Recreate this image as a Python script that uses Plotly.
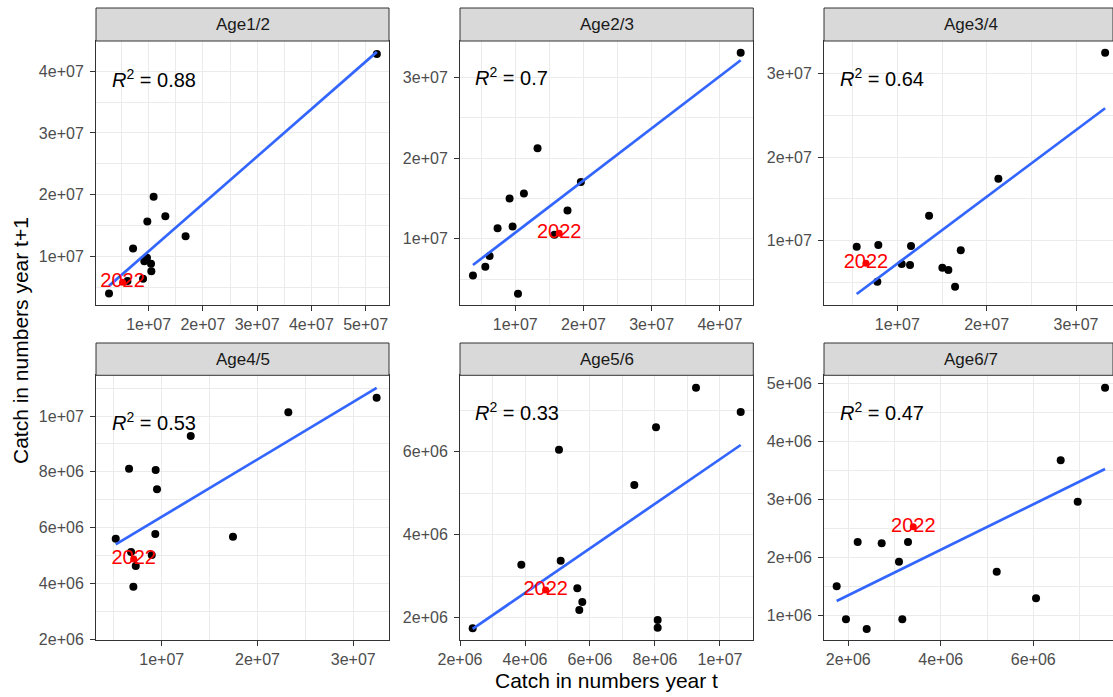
import numpy as np
import plotly.graph_objects as go

# ---------------- data ----------------
panel_titles = ["Age1/2", "Age2/3", "Age3/4", "Age4/5", "Age5/6", "Age6/7"]
r2_labels = ["0.88", "0.7", "0.64", "0.53", "0.33", "0.47"]
highlight_label = "2022"

age12_x = [5.206e7, 1.092e7, 1.308e7, 0.976e7, 1.681e7, 0.713e7, 0.970e7, 0.921e7, 1.044e7, 1.050e7, 0.897e7, 0.610e7, 0.270e7]
age12_y = [4.280e7, 1.963e7, 1.648e7, 1.562e7, 1.324e7, 1.125e7, 0.974e7, 0.919e7, 0.877e7, 0.757e7, 0.634e7, 0.600e7, 0.395e7]
age12_2022 = [0.520e7, 0.579e7]

age23_x = [4.305e7, 1.327e7, 1.962e7, 1.127e7, 0.917e7, 1.766e7, 0.741e7, 0.961e7, 1.575e7, 0.624e7, 0.561e7, 0.380e7, 1.040e7]
age23_y = [3.306e7, 2.122e7, 1.702e7, 1.561e7, 1.499e7, 1.350e7, 1.132e7, 1.152e7, 1.050e7, 0.786e7, 0.653e7, 0.546e7, 0.319e7]
age23_2022 = [1.644e7, 1.070e7]

age34_x = [3.326e7, 2.131e7, 1.355e7, 0.545e7, 0.787e7, 1.153e7, 1.710e7, 1.049e7, 1.142e7, 1.504e7, 1.571e7, 1.646e7, 0.776e7]
age34_y = [3.246e7, 1.741e7, 1.299e7, 0.928e7, 0.949e7, 0.937e7, 0.885e7, 0.722e7, 0.710e7, 0.677e7, 0.650e7, 0.450e7, 0.510e7]
age34_2022 = [0.649e7, 0.730e7]

age45_x = [3.244e7, 2.322e7, 1.303e7, 0.659e7, 0.937e7, 0.951e7, 0.933e7, 1.744e7, 0.520e7, 0.680e7, 0.729e7, 0.896e7, 0.704e7]
age45_y = [1.066e7, 1.0137e7, 9.287e6, 8.115e6, 8.068e6, 7.376e6, 5.774e6, 5.677e6, 5.606e6, 5.130e6, 4.627e6, 5.022e6, 3.885e6]
age45_2022 = [0.708e7, 4.880e6]

age56_x = [9.262e6, 1.0637e7, 8.031e6, 5.046e6, 7.364e6, 3.887e6, 5.098e6, 5.610e6, 5.763e6, 5.671e6, 8.082e6, 8.082e6, 2.390e6]
age56_y = [7.542e6, 6.957e6, 6.588e6, 6.048e6, 5.198e6, 3.277e6, 3.373e6, 2.708e6, 2.378e6, 2.186e6, 1.945e6, 1.759e6, 1.745e6]
age56_2022 = [4.636e6, 2.667e6]

age67_x = [7.551e6, 6.592e6, 6.960e6, 2.203e6, 2.722e6, 3.291e6, 3.096e6, 5.209e6, 1.749e6, 6.059e6, 1.950e6, 3.168e6, 2.398e6]
age67_y = [4.924e6, 3.672e6, 2.959e6, 2.264e6, 2.241e6, 2.264e6, 1.924e6, 1.752e6, 1.500e6, 1.293e6, 0.931e6, 0.931e6, 0.764e6]
age67_2022 = [3.405e6, 2.528e6]

age12_xticks = [1e7, 2e7, 3e7, 4e7, 5e7]
age12_yticks = [1e7, 2e7, 3e7, 4e7]
age23_xticks = [1e7, 2e7, 3e7, 4e7]
age23_yticks = [1e7, 2e7, 3e7]
age34_xticks = [1e7, 2e7, 3e7]
age34_yticks = [1e7, 2e7, 3e7]
age45_xticks = [1e7, 2e7, 3e7]
age45_yticks = [2e6, 4e6, 6e6, 8e6, 1e7]
age56_xticks = [2e6, 4e6, 6e6, 8e6, 1e7]
age56_yticks = [2e6, 4e6, 6e6]
age67_xticks = [2e6, 4e6, 6e6]
age67_yticks = [1e6, 2e6, 3e6, 4e6, 5e6]

panels = [
    (age12_x, age12_y, age12_2022, age12_xticks, age12_yticks),
    (age23_x, age23_y, age23_2022, age23_xticks, age23_yticks),
    (age34_x, age34_y, age34_2022, age34_xticks, age34_yticks),
    (age45_x, age45_y, age45_2022, age45_xticks, age45_yticks),
    (age56_x, age56_y, age56_2022, age56_xticks, age56_yticks),
    (age67_x, age67_y, age67_2022, age67_xticks, age67_yticks),
]

# ---------------- layout geometry ----------------
W, H = 1113, 697
col_px = [(96, 389), (460, 753.3), (824, 1113)]
row_px = [(41, 305), (375.3, 640)]
strip_px = [(8, 41), (343, 375.3)]
x_ranges = [[3.0e5, 5.43e7], [1.9e6, 4.49e7], [1.79e6, 3.414e7],
            [3.14e6, 3.373e7], [2.0e6, 1.1025e7], [1.475e6, 7.723e6]]
y_ranges = [[2.1e6, 4.49e7], [1.8e6, 3.45e7], [2.32e6, 3.386e7],
            [1.975e6, 1.146e7], [1.463e6, 7.84e6], [0.574e6, 5.138e6]]
r2_pos = [(110, 79), (473, 76.5), (837.5, 77.5), (110, 421.5), (473, 411.5), (837.5, 411.5)]

FONT = "Liberation Sans, Arial, sans-serif"
GRID = "#EBEBEB"
DARK = "#333333"


def fx(px):
    return px / W


def fy(py):
    return 1 - py / H


def minor_vals(ticks, rng):
    step = ticks[1] - ticks[0]
    vals = []
    v = ticks[0] - step / 2
    while v > rng[0]:
        vals.append(v)
        v -= step
    v = ticks[0] + step / 2
    while v < rng[1]:
        vals.append(v)
        v += step
    return sorted(vals)


fig = go.Figure()
annotations = []
shapes = []
layout_axes = {}

for i, (xs, ys, hl, xt, yt) in enumerate(panels):
    r, c = divmod(i, 3)
    n = "" if i == 0 else str(i + 1)
    xa, ya = "x" + n, "y" + n
    # points
    fig.add_trace(go.Scatter(x=xs, y=ys, mode="markers", xaxis=xa, yaxis=ya,
                             marker=dict(color="black", size=8), showlegend=False,
                             hoverinfo="skip"))
    # linear fit over all points
    allx = np.array(xs + [hl[0]])
    ally = np.array(ys + [hl[1]])
    b, a = np.polyfit(allx, ally, 1)
    lx = np.array([allx.min(), allx.max()])
    fig.add_trace(go.Scatter(x=lx, y=a + b * lx, mode="lines", xaxis=xa, yaxis=ya,
                             line=dict(color="#3366FF", width=2.7), showlegend=False,
                             hoverinfo="skip"))
    # highlighted year
    fig.add_trace(go.Scatter(x=[hl[0]], y=[hl[1]], mode="markers+text", xaxis=xa, yaxis=ya,
                             marker=dict(color="red", size=7),
                             text=[highlight_label], textposition="middle center",
                             textfont=dict(color="#FF0000", size=20, family=FONT),
                             showlegend=False, hoverinfo="skip"))

    xr, yr = x_ranges[i], y_ranges[i]
    common = dict(showline=True, linecolor=DARK, linewidth=1, mirror=True,
                  ticks="outside", ticklen=5, tickcolor=DARK, tickwidth=1,
                  showgrid=True, gridcolor=GRID, gridwidth=1.1, zeroline=False,
                  automargin=False,
                  tickfont=dict(size=16, color="#4D4D4D", family=FONT),
                  tickmode="array")
    layout_axes["xaxis" + n] = dict(
        common, domain=[fx(col_px[c][0]), fx(col_px[c][1])], range=xr, anchor=ya,
        tickvals=xt, ticktext=[f"{v:.0e}" for v in xt],
        minor=dict(tickmode="array", tickvals=minor_vals(xt, xr), showgrid=True,
                   gridcolor=GRID, gridwidth=0.6, ticks=""))
    layout_axes["yaxis" + n] = dict(
        common, domain=[fy(row_px[r][1]), fy(row_px[r][0])], range=yr, anchor=xa,
        tickvals=yt, ticktext=[f"{v:.0e}" for v in yt], ticklabelstandoff=3,
        minor=dict(tickmode="array", tickvals=minor_vals(yt, yr), showgrid=True,
                   gridcolor=GRID, gridwidth=0.6, ticks=""))

    # strip
    shapes.append(dict(type="rect", xref="paper", yref="paper",
                       x0=fx(col_px[c][0]), x1=fx(col_px[c][1]),
                       y0=fy(strip_px[r][1]), y1=fy(strip_px[r][0]),
                       fillcolor="#D9D9D9", line=dict(color=DARK, width=1), layer="above"))
    strip_cx = (col_px[c][0] + col_px[c][1]) / 2 if c < 2 else (824 + 1117) / 2
    annotations.append(dict(text=panel_titles[i], xref="paper", yref="paper",
                            x=fx(strip_cx),
                            y=fy((strip_px[r][0] + strip_px[r][1]) / 2),
                            showarrow=False, xanchor="center", yanchor="middle",
                            font=dict(size=17, color="#1A1A1A", family=FONT)))
    # R^2 label
    px, py = r2_pos[i]
    annotations.append(dict(text=f"<i>R</i><sup>2</sup> = {r2_labels[i]}",
                            xref="paper", yref="paper", x=fx(px), y=fy(py),
                            showarrow=False, xanchor="left", yanchor="middle",
                            font=dict(size=20, color="black", family=FONT)))

# axis titles
annotations.append(dict(text="Catch in numbers year t", xref="paper", yref="paper",
                        x=fx(606.5), y=fy(680), showarrow=False,
                        xanchor="center", yanchor="middle",
                        font=dict(size=21, color="black", family=FONT)))
annotations.append(dict(text="Catch in numbers year t+1", xref="paper", yref="paper",
                        x=fx(20), y=fy(341), showarrow=False, textangle=-90,
                        xanchor="center", yanchor="middle",
                        font=dict(size=21, color="black", family=FONT)))

fig.update_layout(width=W, height=H, margin=dict(l=0, r=0, t=0, b=0, autoexpand=False),
                  paper_bgcolor="white", plot_bgcolor="white",
                  font=dict(family=FONT), annotations=annotations, shapes=shapes,
                  **layout_axes)

fig.write_html("out.html", config={"displayModeBar": False},
               post_script="document.body.style.margin='0px';document.body.style.overflow='hidden';")
